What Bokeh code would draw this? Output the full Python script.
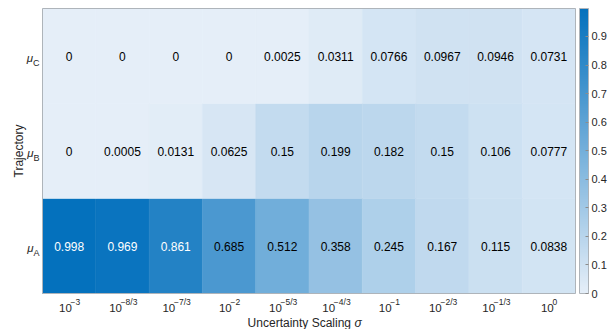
import numpy as np
from bokeh.plotting import figure
from bokeh.models import (ColumnDataSource, LinearColorMapper, ColorBar, FixedTicker,
                          CustomJSTickFormatter, Range1d)
from bokeh.transform import transform
from bokeh.embed import file_html
from bokeh.resources import INLINE
from bokeh.core.properties import value

# ---- data -------------------------------------------------------------
sigma_exponents = ["\u22123", "\u22128/3", "\u22127/3", "\u22122", "\u22125/3",
                   "\u22124/3", "\u22121", "\u22122/3", "\u22121/3", "0"]
trajectories = ["A", "B", "C"]          # bottom to top
prob_A = [0.998, 0.969, 0.861, 0.685, 0.512, 0.358, 0.245, 0.167, 0.115, 0.0838]
prob_B = [0, 0.0005, 0.0131, 0.0625, 0.15, 0.199, 0.182, 0.15, 0.106, 0.0777]
prob_C = [0, 0, 0, 0, 0.0025, 0.0311, 0.0766, 0.0967, 0.0946, 0.0731]
cbar_ticks = [0, 0.1, 0.2, 0.3, 0.4, 0.5, 0.6, 0.7, 0.8, 0.9]

FONT = "Liberation Sans"
TXT = "#262626"
EDGE = "#aeb4ba"

# ---- page geometry (pixels) --------------------------------------------
W, H = 613, 329
LEFT, TOP, BOTTOM, RIGHT = 42, 8, 36, 38
ncol, nrow = len(sigma_exponents), len(trajectories)
cw = (W - LEFT - RIGHT) / ncol        # pixels per column
ch = (H - TOP - BOTTOM) / nrow        # pixels per row

# ---- colormap: light blue-white to strong blue -------------------------
lo_rgb = np.array([229, 238, 248])
hi_rgb = np.array([4, 113, 189])
palette = ["#%02x%02x%02x" % tuple(int(round(c)) for c in lo_rgb + (hi_rgb - lo_rgb) * t)
           for t in np.linspace(0, 1, 256)]

rows = [prob_A, prob_B, prob_C]
xs, ys, vals = [], [], []
for j, row in enumerate(rows):
    for i, v in enumerate(row):
        xs.append(i)
        ys.append(j)
        vals.append(v)
vals_arr = np.array(vals)
labels = [f"{v:.3g}" for v in vals]
text_colors = ["white" if v > 0.75 else "black" for v in vals]

src = ColumnDataSource(dict(x=xs, y=ys, v=vals, label=labels, tc=text_colors))
mapper = LinearColorMapper(palette=palette, low=float(vals_arr.min()), high=float(vals_arr.max()))

# the frame spans the whole page so that tick texts can live inside it
x_lo = -0.5 - LEFT / cw
x_hi = ncol - 0.5 + RIGHT / cw
y_lo = -0.5 - BOTTOM / ch
y_hi = nrow - 0.5 + TOP / ch

p = figure(width=W, height=H,
           x_range=Range1d(x_lo, x_hi), y_range=Range1d(y_lo, y_hi),
           x_axis_location=None, y_axis_location=None,
           output_backend="svg", toolbar_location=None,
           min_border=0)
p.grid.visible = False
p.outline_line_color = None
p.background_fill_color = "white"
p.border_fill_color = "white"

p.rect("x", "y", width=1, height=1, source=src,
       fill_color=transform("v", mapper), line_color=transform("v", mapper), line_width=0.5)
p.text("x", "y", text="label", source=src, text_align="center", text_baseline="middle",
       text_font=value(FONT), text_font_size="12px", text_color="tc")
# heatmap border
p.rect(x=[(ncol - 1) / 2], y=[(nrow - 1) / 2], width=ncol, height=nrow,
       fill_color=None, line_color=EDGE, line_width=1)

# ---- tick labels ---------------------------------------------------------
ARIAL = {"\u2212": 0.584, "/": 0.278, "A": 0.667, "B": 0.667, "C": 0.722}


def text_w(s, size):
    return sum(ARIAL.get(c, 0.556) for c in s) * size * 0.9


BASE_FS, SUP_FS = 11.5, 8.5
base_x, sup_x = [], []
for i, e in enumerate(sigma_exponents):
    bw = text_w("10", BASE_FS)
    sw = text_w(e, SUP_FS)
    start = -(bw + sw) / 2
    base_x.append(i + start / cw)
    sup_x.append(i + (start + bw) / cw)
y_edge = -0.5
p.text(x=base_x, y=[y_edge - 14 / ch] * ncol, text=["10"] * ncol,
       text_align="left", text_baseline="middle",
       text_font=value(FONT), text_font_size=f"{BASE_FS}px", text_color=TXT)
p.text(x=sup_x, y=[y_edge - 8.5 / ch] * ncol, text=sigma_exponents,
       text_align="left", text_baseline="middle",
       text_font=value(FONT), text_font_size=f"{SUP_FS}px", text_color=TXT)

x_edge = -0.5
SUB_FS, MU_FS = 9, 11.5
rows_idx = list(range(nrow))
p.text(x=[x_edge - 3 / cw] * nrow, y=[j - 7 / ch for j in rows_idx], text=trajectories,
       text_align="right", text_baseline="alphabetic",
       text_font=value(FONT), text_font_size=f"{SUB_FS}px", text_color=TXT)
p.text(x=[x_edge - (3.5 + text_w(t, SUB_FS)) / cw for t in trajectories],
       y=[j - 2 / ch for j in rows_idx], text=["\u03bc"] * nrow,
       text_align="right", text_baseline="alphabetic",
       text_font=value(FONT), text_font_size=f"{MU_FS}px", text_font_style="italic",
       text_color=TXT)

# ---- axis titles ---------------------------------------------------------
TITLE_FS = 12
xmid = (ncol - 1) / 2
title_y = y_edge - 29 / ch
p.text(x=[xmid + 42 / cw], y=[title_y], text=["Uncertainty Scaling"],
       text_align="right", text_baseline="middle",
       text_font=value(FONT), text_font_size=f"{TITLE_FS}px", text_color=TXT)
p.text(x=[xmid + 45.5 / cw], y=[title_y], text=["\u03c3"],
       text_align="left", text_baseline="middle",
       text_font=value(FONT), text_font_size=f"{TITLE_FS}px", text_font_style="italic",
       text_color=TXT)
p.text(x=[x_edge - 24 / cw], y=[(nrow - 1) / 2], text=["Trajectory"],
       angle=np.pi / 2, text_align="center", text_baseline="middle",
       text_font=value(FONT), text_font_size=f"{TITLE_FS}px", text_color=TXT)

# ---- colorbar ------------------------------------------------------------
cbar = ColorBar(color_mapper=mapper, ticker=FixedTicker(ticks=cbar_ticks),
                formatter=CustomJSTickFormatter(code="return tick === 0 ? '0' : tick.toFixed(1);"),
                location=(W - RIGHT + 4, BOTTOM), width=9, height=H - TOP - BOTTOM,
                margin=0, padding=0, label_standoff=3,
                major_label_text_font=FONT, major_label_text_font_size="11px",
                major_label_text_color=TXT,
                major_tick_line_color="#8c8c8c", major_tick_in=3, major_tick_out=0,
                minor_tick_line_color=None, bar_line_color=EDGE,
                border_line_color=None, background_fill_color=None)
p.add_layout(cbar)

open("out.html", "w").write(file_html(p, INLINE))
